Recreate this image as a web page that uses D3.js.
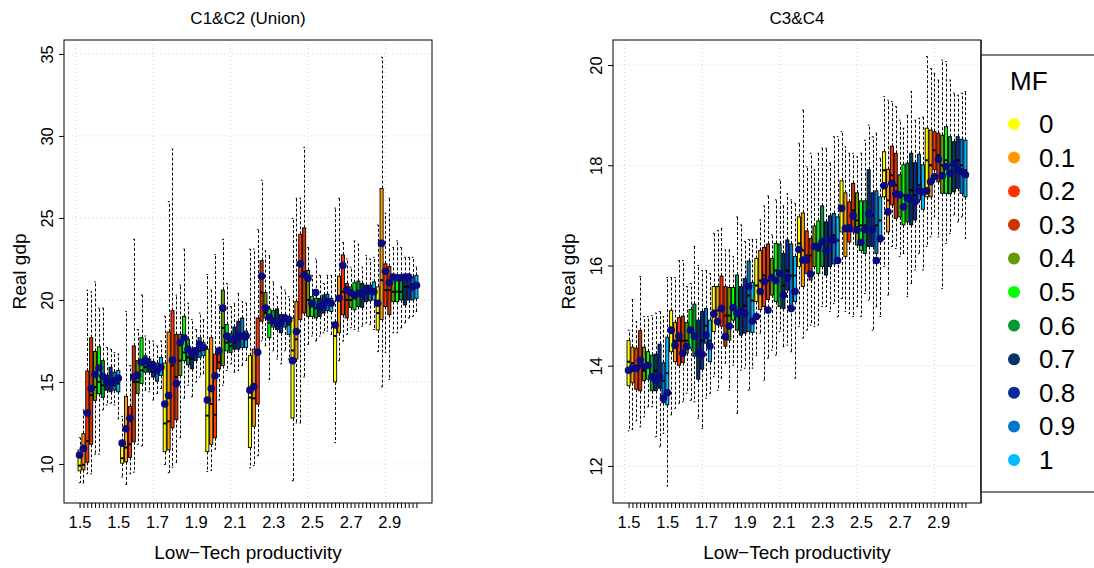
<!DOCTYPE html>
<html>
<head>
<meta charset="utf-8">
<script src="https://cdn.jsdelivr.net/npm/d3@7"></script>
<style>
  body { margin: 0; background: #fff; }
  svg { display: block; font-family: "Liberation Sans", Arial, sans-serif; }
</style>
</head>
<body>
<svg id="chart" width="1094" height="568"></svg>
<script>
// MF levels and their colours (legend order)
const mfLevels = ["0", "0.1", "0.2", "0.3", "0.4", "0.5", "0.6", "0.7", "0.8", "0.9", "1"];
const mfColors = ["#ffff00", "#ff9900", "#ff3300", "#cc3300", "#669900", "#00ff00",
                  "#009933", "#003366", "#0a2a9a", "#0077cc", "#00bbff"];

// x labels drawn at every 10th box
const prodLabels = ["1.5", "1.5", "1.7", "1.9", "2.1", "2.3", "2.5", "2.7", "2.9"];

// ---- C1&C2 (Union): 88 boxes, 8 productivity groups x 11 MF ----
const c12Lo = [8.85, 8.85, 9.4, 9.4, 10.6, 10.6, 13.3, 13.6, 13.7, 13.6, 12.75,
  9.2, 8.75, 9.4, 9.5, 11.2, 11.1, 14.5, 14.4, 13.9, 14.3, 14.6,
  9.97, 9.47, 9.8, 10.1, 11.6, 14.0, 14.8, 14.1, 15.0, 15.3, 15.5,
  9.54, 9.6, 10.9, 13.9, 14.8, 15.7, 16.1, 15.6, 15.7, 16.0, 16.3,
  9.76, 9.9, 10.5, 17.5, 17.2, 15.16, 16.9, 16.4, 16.1, 16.9, 16.4,
  8.98, 12.5, 12.5, 15.3, 17.3, 17.8, 17.5, 17.8, 18.0, 18.1, 17.9,
  11.3, 16.3, 17.5, 17.9, 18.3, 18.2, 18.1, 18.4, 18.6, 18.5, 18.2,
  16.85, 14.7, 16.8, 15.16, 18.0, 18.0, 18.3, 18.6, 18.9, 19.0, 19.3];
const c12Q1 = [9.58, 9.65, 10.1, 11.2, 13.88, 14.28, 14.05, 14.5, 14.4, 14.5, 14.4,
  10.05, 10.13, 10.4, 11.35, 14.3, 14.9, 15.6, 15.6, 15.3, 15.05, 15.4,
  10.75, 10.86, 12.2, 12.7, 15.4, 16.3, 16.05, 15.8, 16.3, 16.5, 16.6,
  10.75, 11.2, 11.6, 15.8, 16.0, 16.9, 16.8, 17.0, 17.0, 17.1, 17.1,
  11.0, 12.3, 13.65, 18.7, 18.9, 17.7, 18.35, 18.2, 18.0, 18.35, 17.9,
  12.8, 16.4, 18.8, 19.2, 19.0, 19.0, 18.9, 19.0, 19.2, 19.35, 19.3,
  15.0, 18.0, 19.1, 18.9, 19.55, 19.4, 19.6, 19.55, 19.9, 19.95, 20.0,
  18.17, 18.8, 19.6, 19.1, 19.9, 19.9, 20.0, 19.7, 20.0, 20.0, 20.1];
const c12Med = [9.9, 9.95, 11.4, 14.2, 14.7, 15.0, 14.8, 14.8, 14.9, 14.8, 14.9,
  10.35, 11.0, 11.2, 15.0, 15.0, 15.7, 15.9, 15.9, 15.6, 15.6, 15.8,
  12.47, 12.6, 16.0, 15.3, 16.3, 16.8, 16.5, 16.4, 16.7, 16.9, 17.0,
  12.95, 13.66, 13.0, 16.2, 18.3, 17.4, 17.2, 17.4, 17.6, 17.8, 17.6,
  14.05, 14.0, 16.8, 20.45, 19.2, 18.6, 18.8, 18.6, 18.6, 18.8, 18.5,
  16.92, 17.6, 21.44, 21.5, 20.0, 19.6, 19.5, 19.5, 19.7, 19.8, 19.7,
  17.8, 20.0, 20.5, 20.0, 20.0, 20.1, 20.3, 20.3, 20.4, 20.4, 20.5,
  19.2, 21.2, 20.6, 20.6, 20.5, 20.5, 20.5, 20.8, 20.8, 20.7, 20.9];
const c12Q3 = [10.86, 11.85, 15.67, 17.7, 16.86, 17.14, 16.3, 15.4, 15.9, 15.6, 15.7,
  11.06, 14.12, 13.5, 17.2, 16.3, 17.7, 16.6, 16.4, 16.25, 16.15, 16.5,
  16.15, 18.05, 19.35, 17.9, 17.9, 19.0, 17.6, 17.0, 17.1, 17.7, 17.4,
  17.0, 17.7, 16.7, 16.7, 20.6, 18.5, 17.95, 18.35, 18.7, 18.9, 18.1,
  16.6, 17.0, 18.9, 22.4, 20.45, 19.45, 19.35, 19.45, 19.1, 19.1, 19.0,
  18.9, 19.9, 24.0, 24.4, 21.8, 20.2, 20.1, 20.1, 20.3, 20.35, 20.1,
  18.65, 21.45, 22.75, 21.0, 20.8, 21.05, 21.15, 21.0, 20.9, 20.9, 21.1,
  20.8, 26.8, 22.2, 22.04, 21.5, 21.5, 21.5, 21.5, 21.5, 21.4, 21.5];
const c12Hi = [11.6, 13.3, 20.6, 20.5, 21.1, 19.5, 19.5, 17.1, 17.0, 16.8, 16.7,
  12.9, 19.3, 16.0, 23.7, 18.2, 20.3, 17.8, 17.5, 17.5, 17.2, 17.5,
  19.0, 26.0, 29.2, 20.3, 20.9, 23.1, 19.8, 18.8, 18.2, 19.2, 18.8,
  21.55, 20.6, 22.76, 19.7, 23.7, 21.0, 19.6, 19.8, 20.4, 19.9, 19.8,
  23.1, 23.1, 24.3, 27.3, 23.0, 22.7, 21.1, 20.2, 20.8, 20.6, 20.2,
  24.97, 26.2, 26.2, 29.3, 23.2, 21.5, 22.5, 21.5, 21.0, 21.5, 21.5,
  25.6, 26.2, 23.5, 22.5, 22.0, 23.6, 23.4, 22.0, 22.7, 22.5, 22.6,
  24.57, 34.8, 25.3, 26.2, 23.2, 23.6, 23.2, 22.6, 22.6, 22.6, 22.0];
const c12Mean = [10.55, 10.95, 13.1, 14.6, 15.45, 15.85, 15.35, 15.0, 14.95, 15.05, 15.22,
  11.27, 12.15, 12.78, 15.3, 15.4, 16.2, 16.3, 16.0, 16.0, 15.7, 15.9,
  13.66, 14.17, 16.33, 14.9, 17.4, 17.7, 17.0, 16.7, 16.9, 17.3, 17.1,
  13.9, 14.6, 15.38, 16.9, 19.5, 17.8, 17.6, 17.6, 17.8, 17.8, 17.8,
  14.5, 14.72, 16.81, 21.44, 19.5, 18.95, 18.7, 18.6, 18.6, 18.9, 18.8,
  16.3, 18.07, 22.2, 21.55, 21.33, 19.8, 20.45, 19.6, 19.7, 19.9, 19.8,
  18.47, 20.1, 22.1, 20.6, 20.45, 20.3, 20.4, 20.4, 20.6, 20.6, 20.5,
  19.8, 23.45, 21.75, 21.05, 21.4, 21.35, 21.35, 21.4, 21.4, 20.8, 20.9];

// ---- C3&C4 ----
const c34Lo = [12.7, 12.73, 12.9, 12.78, 12.98, 13.18, 13.18, 12.58, 12.38, 12.65, 11.6,
  13.02, 13.15, 13.25, 13.28, 13.45, 13.31, 13.28, 12.95, 12.75, 13.35, 13.45,
  13.78, 13.51, 13.75, 14.05, 13.51, 14.01, 13.05, 13.91, 13.95, 13.51, 13.95,
  14.2, 14.65, 13.71, 14.15, 14.31, 14.21, 14.68, 14.38, 14.41, 14.28, 13.75,
  14.78, 14.55, 14.71, 14.81, 14.78, 14.81, 15.18, 15.18, 15.08, 15.24, 14.98,
  15.34, 15.08, 15.04, 14.98, 15.18, 14.98, 15.44, 15.31, 14.71, 15.18, 14.98,
  15.98, 15.41, 16.38, 16.34, 16.18, 16.24, 15.38, 15.64, 15.91, 16.24, 15.91,
  16.38, 16.57, 16.97, 16.57, 15.54, 16.44, 16.64, 17.01, 16.87, 16.97, 16.54];
const c34Q1 = [13.6, 13.66, 13.53, 13.5, 13.7, 13.73, 13.5, 13.5, 13.55, 13.26, 13.22,
  14.28, 14.08, 14.01, 14.06, 14.25, 14.35, 14.19, 13.73, 13.93, 14.45, 14.08,
  14.68, 14.91, 14.79, 14.39, 14.51, 14.91, 14.71, 14.61, 14.65, 14.68, 14.66,
  15.28, 15.12, 15.18, 15.32, 15.41, 15.28, 15.18, 15.14, 15.51, 15.14, 15.28,
  15.98, 15.58, 15.84, 15.71, 15.98, 15.84, 15.98, 15.81, 15.98, 16.03, 16.11,
  16.67, 16.18, 16.47, 16.67, 16.41, 16.3, 16.24, 16.38, 16.38, 16.24, 16.47,
  17.37, 16.67, 17.21, 16.94, 16.97, 16.81, 16.87, 16.81, 16.91, 17.31, 17.12,
  17.37, 17.37, 17.91, 17.67, 17.44, 17.44, 17.43, 17.47, 17.54, 17.44, 17.37];
const c34Med = [14.08, 14.05, 14.0, 14.0, 13.9, 14.0, 13.8, 13.9, 13.8, 13.7, 13.85,
  14.65, 14.5, 14.5, 14.5, 14.5, 14.7, 14.6, 14.2, 14.5, 14.8, 14.5,
  15.1, 15.1, 15.1, 15.0, 15.0, 15.2, 15.1, 15.1, 15.2, 15.4, 15.3,
  15.6, 15.7, 15.8, 15.7, 15.8, 15.9, 15.8, 15.6, 15.9, 15.8, 15.8,
  16.44, 16.3, 16.2, 16.2, 16.4, 16.3, 16.5, 16.3, 16.5, 16.6, 16.5,
  17.1, 16.7, 16.8, 17.1, 16.9, 16.8, 16.8, 17.0, 17.0, 16.8, 16.9,
  17.9, 17.3, 17.8, 17.6, 17.4, 17.4, 17.4, 17.5, 17.4, 17.6, 17.5,
  18.1, 18.0, 18.3, 18.2, 18.0, 18.1, 18.0, 18.0, 18.1, 18.0, 17.9];
const c34Q3 = [14.5, 14.37, 14.35, 14.7, 14.37, 14.28, 14.21, 14.23, 14.43, 14.06, 14.57,
  15.1, 14.86, 14.96, 14.99, 14.86, 15.12, 15.23, 14.91, 15.08, 15.14, 14.91,
  15.58, 15.58, 15.79, 15.58, 15.56, 15.56, 15.81, 15.58, 15.74, 16.09, 15.66,
  16.14, 16.3, 16.36, 16.43, 16.14, 16.44, 16.43, 16.24, 16.51, 16.43, 16.18,
  16.97, 17.05, 16.69, 16.54, 16.79, 16.89, 17.19, 16.87, 16.99, 17.04, 16.97,
  17.69, 17.45, 17.27, 17.64, 17.45, 17.29, 17.29, 17.91, 17.45, 17.49, 17.37,
  18.27, 17.92, 18.38, 18.24, 17.81, 18.01, 18.04, 18.24, 18.05, 18.22, 18.01,
  18.74, 18.7, 18.67, 18.64, 18.6, 18.77, 18.57, 18.47, 18.57, 18.52, 18.5];
const c34Hi = [14.71, 15.32, 14.88, 15.78, 14.98, 14.98, 15.0, 15.05, 15.08, 14.98, 15.76,
  15.76, 15.76, 16.1, 16.1, 15.58, 15.64, 16.38, 16.0, 15.9, 15.9, 15.84,
  16.64, 16.7, 16.74, 16.31, 16.31, 16.18, 16.97, 16.81, 16.48, 16.52, 16.52,
  16.52, 16.91, 17.19, 17.39, 16.61, 17.31, 17.71, 17.19, 17.43, 17.31, 17.24,
  18.44, 19.1, 17.97, 18.24, 17.91, 18.24, 18.34, 18.34, 18.04, 18.57, 18.57,
  18.67, 18.37, 18.24, 18.24, 18.17, 18.24, 18.5, 18.8, 18.57, 18.64, 18.14,
  19.37, 19.3, 19.27, 19.17, 18.9, 18.74, 19.0, 19.47, 18.9, 18.94, 18.96,
  20.17, 19.93, 19.83, 19.7, 20.1, 20.07, 19.7, 19.44, 19.4, 19.44, 19.47];
const c34Mean = [13.91, 13.95, 13.95, 14.11, 13.98, 14.01, 13.78, 13.71, 13.78, 13.35, 13.46,
  14.71, 14.41, 14.59, 14.25, 14.38, 14.71, 14.59, 14.25, 14.23, 14.61, 14.39,
  15.03, 14.88, 15.14, 14.58, 14.79, 15.16, 15.04, 15.08, 15.04, 15.58, 14.89,
  14.98, 15.48, 15.68, 15.11, 15.76, 15.7, 15.84, 15.41, 15.76, 15.14, 15.48,
  16.32, 16.11, 16.11, 15.83, 16.38, 16.38, 16.48, 16.3, 16.52, 16.51, 16.1,
  17.14, 16.74, 16.74, 16.99, 16.71, 16.46, 16.72, 17.03, 16.72, 16.1, 16.54,
  17.59, 17.07, 17.64, 17.43, 17.41, 17.17, 17.34, 17.32, 17.27, 17.49, 17.47,
  17.49, 17.67, 17.77, 18.12, 17.79, 17.97, 17.84, 18.03, 17.91, 17.87, 17.81];

const svg = d3.select("#chart");
const plotTop = 40, plotBottom = 503;

function drawPanel(cfg) {
  const n = cfg.lo.length;
  const pad = 0.04 * n;
  const x = d3.scaleLinear().domain([0.5 - pad, n + 0.5 + pad]).range([cfg.left, cfg.right]);
  const y = d3.scaleLinear().domain(cfg.yDomain).range([plotBottom, plotTop]);
  const bw = x(1.4) - x(1); // half of boxwex 0.8
  const g = svg.append("g");

  // grid
  g.selectAll(".hgrid").data(cfg.yTicks).join("line")
    .attr("x1", cfg.left).attr("x2", cfg.right)
    .attr("y1", d => y(d)).attr("y2", d => y(d))
    .attr("stroke", "#d3d3d3").attr("stroke-dasharray", "1,3");
  g.selectAll(".vgrid").data([0, 20, 40, 60, 80]).join("line")
    .attr("x1", d => x(d)).attr("x2", d => x(d))
    .attr("y1", plotTop).attr("y2", plotBottom)
    .attr("stroke", "#d3d3d3").attr("stroke-dasharray", "1,3");

  const boxes = d3.range(n).map(i => ({
    pos: i + 1, mf: i % mfLevels.length,
    lo: cfg.lo[i], q1: cfg.q1[i], med: cfg.med[i], q3: cfg.q3[i], hi: cfg.hi[i], mean: cfg.mean[i]
  }));

  const b = g.selectAll(".box").data(boxes).join("g");

  // whiskers (dashed)
  [["q3", "hi"], ["q1", "lo"]].forEach(([a, c]) => {
    b.append("line")
      .attr("x1", d => Math.round(x(d.pos)) + 0.5).attr("x2", d => Math.round(x(d.pos)) + 0.5)
      .attr("y1", d => y(d[a])).attr("y2", d => y(d[c]))
      .attr("stroke", "#000").attr("stroke-width", 1).attr("stroke-dasharray", "3,2");
  });
  // staples
  ["hi", "lo"].forEach(k => {
    b.append("line")
      .attr("x1", d => x(d.pos) - bw / 2).attr("x2", d => x(d.pos) + bw / 2)
      .attr("y1", d => y(d[k])).attr("y2", d => y(d[k]))
      .attr("stroke", "#000").attr("stroke-width", 1);
  });
  // boxes
  b.append("rect")
    .attr("x", d => x(d.pos) - bw).attr("width", 2 * bw)
    .attr("y", d => y(d.q3)).attr("height", d => y(d.q1) - y(d.q3))
    .attr("fill", d => mfColors[d.mf]).attr("stroke", "#000").attr("stroke-width", 0.9);
  // medians
  b.append("line")
    .attr("x1", d => x(d.pos) - bw).attr("x2", d => x(d.pos) + bw)
    .attr("y1", d => y(d.med)).attr("y2", d => y(d.med))
    .attr("stroke", "#000").attr("stroke-width", 2);

  // means
  g.selectAll(".mean").data(boxes).join("circle")
    .attr("cx", d => x(d.pos)).attr("cy", d => y(d.mean))
    .attr("r", 3.8).attr("fill", "#0a0a80");

  // frame
  g.append("rect")
    .attr("x", cfg.left).attr("y", plotTop)
    .attr("width", cfg.right - cfg.left).attr("height", plotBottom - plotTop)
    .attr("fill", "none").attr("stroke", "#000").attr("stroke-width", 1);

  // x axis
  const xa = g.append("g").attr("transform", `translate(0,${plotBottom})`)
    .call(d3.axisBottom(x).tickValues(d3.range(1, n + 1))
      .tickFormat(p => (p - 1) % 10 === 0 ? prodLabels[(p - 1) / 10] : "")
      .tickSize(5).tickPadding(8));
  xa.select(".domain").remove();
  xa.selectAll("text").style("font-size", "16.5px").attr("fill", "#000")
    .style("font-family", "'Liberation Sans', Arial, sans-serif");

  // y axis
  const ya = g.append("g").attr("transform", `translate(${cfg.left},0)`)
    .call(d3.axisLeft(y).tickValues(cfg.yTicks).tickFormat(d3.format("d")).tickSize(5));
  ya.select(".domain").remove();
  ya.selectAll("text")
    .attr("x", 0).attr("dy", 0).attr("y", -11)
    .attr("transform", "rotate(-90)")
    .attr("text-anchor", "middle").attr("fill", "#000")
    .style("font-size", "16.5px")
    .style("font-family", "'Liberation Sans', Arial, sans-serif");

  // titles
  const cx = (cfg.left + cfg.right) / 2;
  g.append("text").attr("x", cx).attr("y", 24).attr("text-anchor", "middle")
    .style("font-size", "17px").text(cfg.title);
  g.append("text").attr("x", cx).attr("y", 559).attr("text-anchor", "middle")
    .style("font-size", "19px").text("Low\u2212Tech productivity");
  g.append("text")
    .attr("transform", `translate(${cfg.left - 38},${(plotTop + plotBottom) / 2}) rotate(-90)`)
    .attr("text-anchor", "middle").style("font-size", "19px").text("Real gdp");
}

drawPanel({
  left: 64, right: 432, title: "C1&C2 (Union)",
  yDomain: [7.62, 35.85], yTicks: [10, 15, 20, 25, 30, 35],
  lo: c12Lo, q1: c12Q1, med: c12Med, q3: c12Q3, hi: c12Hi, mean: c12Mean
});
drawPanel({
  left: 613, right: 981, title: "C3&C4",
  yDomain: [11.26, 20.5], yTicks: [12, 14, 16, 18, 20],
  lo: c34Lo, q1: c34Q1, med: c34Med, q3: c34Q3, hi: c34Hi, mean: c34Mean
});

// legend
const ly = d3.scalePoint().domain(mfLevels).range([124, 460]);
const leg = svg.append("g");
leg.append("rect").attr("x", 981).attr("y", 55).attr("width", 140).attr("height", 437)
  .attr("fill", "#fff").attr("stroke", "#555").attr("stroke-width", 1.5);
leg.append("line").attr("x1", 981).attr("x2", 981).attr("y1", plotTop).attr("y2", plotBottom)
  .attr("stroke", "#000");
leg.append("text").attr("x", 1010).attr("y", 90).style("font-size", "26px").text("MF");
leg.selectAll(".ld").data(mfLevels).join("circle")
  .attr("cx", 1014).attr("cy", d => ly(d)).attr("r", 6)
  .attr("fill", (d, i) => mfColors[i]);
leg.selectAll(".lt").data(mfLevels).join("text")
  .attr("x", 1039).attr("y", d => ly(d) + 9)
  .style("font-size", "26px").text(d => d);
</script>
</body>
</html>
